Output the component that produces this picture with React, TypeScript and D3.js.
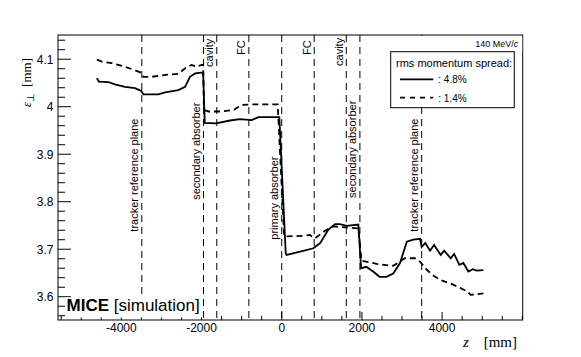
import React from 'react';
import * as d3 from 'd3';

const W = 581;
const H = 357;
const margin = { top: 35, right: 58.3, bottom: 37, left: 58 };

// emittance along the channel, rms momentum spread 4.8% (solid)
const zWide = [
  -4610, -4560, -4330, -4160, -3910, -3660, -3500, -3450, -3080, -2910, -2580, -2410, -2290, -2160, -2000, -1960,
  -1920, -1640, -1290, -1040, -750, -580, -60, 100, 120, 460, 790, 960, 1160, 1330, 1450, 1620, 1910,
  1980, 2110, 2280, 2440, 2610, 2780, 2950, 3120, 3280, 3450, 3490, 3580, 3700, 3800, 3965, 4050, 4215,
  4300, 4430, 4530, 4655, 4765, 4865, 5030,
];
const epsWide = [
  4.06, 4.053, 4.052, 4.047, 4.042, 4.039, 4.033, 4.026, 4.026, 4.03, 4.035, 4.042, 4.063, 4.07, 4.072, 4.072,
  3.966, 3.965, 3.971, 3.974, 3.972, 3.978, 3.978, 3.691, 3.688, 3.695, 3.702, 3.713, 3.741, 3.753, 3.753, 3.749, 3.752,
  3.66, 3.663, 3.653, 3.642, 3.642, 3.649, 3.671, 3.716, 3.72, 3.722, 3.705, 3.713, 3.697, 3.709, 3.688, 3.697, 3.681,
  3.69, 3.667, 3.671, 3.653, 3.658, 3.655, 3.656,
];

// rms momentum spread 1.4% (dashed)
const zNarrow = [
  -4610, -4490, -4240, -3910, -3660, -3490, -3450, -3240, -2910, -2580, -2410, -2250, -2120, -2000, -1960,
  -1940, -1820, -1530, -1200, -1000, -710, -100, 60, 540, 700, 830, 1080, 1290, 1620, 1910,
  1990, 2370, 2780, 3070, 3320, 3450, 3580, 3750, 3960, 4210, 4460, 4630, 4710, 5030,
];
const epsNarrow = [
  4.099, 4.095, 4.092, 4.084, 4.077, 4.071, 4.063, 4.063, 4.067, 4.069, 4.081, 4.088, 4.084, 4.088, 4.088,
  3.993, 3.99, 3.99, 3.993, 4.004, 4.005, 4.005, 3.727, 3.728, 3.73, 3.723, 3.739, 3.748, 3.746, 3.744,
  3.676, 3.669, 3.665, 3.681, 3.681, 3.674, 3.66, 3.646, 3.635, 3.628, 3.618, 3.611, 3.604, 3.607,
];

// element positions along z
const markerZ = [-3490, -1950, -1620, -820, 0, 810, 1610, 1950, 3490];
const markerText = [
  'tracker reference plane', 'secondary absorber', 'cavity', 'FC', 'primary absorber',
  'FC', 'cavity', 'secondary absorber', 'tracker reference plane',
];
// emittance level where each label starts (bottom) or ends (top)
const markerAt = [3.737, 3.804, 4.143, 4.14, 3.72, 4.14, 4.145, 3.808, 3.737];
const markerFromTop = [false, false, true, true, false, true, true, false, false];

const xMajor = [-4000, -2000, 0, 2000, 4000];
const xMajorLabels = ['-4000', '-2000', '0', '2000', '4000'];
const yMajor = [3.6, 3.7, 3.8, 3.9, 4.0, 4.1];
const yMajorLabels = ['3.6', '3.7', '3.8', '3.9', '4', '4.1'];

const legendLabels = [': 4.8%', ': 1.4%'];

const App = () => {
  const x = d3.scaleLinear().domain([-5580, 6010]).range([margin.left, W - margin.right]);
  const y = d3.scaleLinear().domain([3.551, 4.151]).range([H - margin.bottom, margin.top]);
  const [x0, x1] = x.range();
  const [yb, yt] = y.range();

  const xMinor = d3.range(-5500, 6001, 500).filter(v => !xMajor.includes(v));
  const yMinor = d3.range(3.56, 4.15, 0.02).filter(v => !yMajor.some(m => Math.abs(m - v) < 1e-6));

  const line = d3.line<[number, number]>().x(d => x(d[0])).y(d => y(d[1]));
  const wide = line(zWide.map((z, i) => [z, epsWide[i]] as [number, number])) || '';
  const narrow = line(zNarrow.map((z, i) => [z, epsNarrow[i]] as [number, number])) || '';

  const sans = "'Liberation Sans', Arial, Helvetica, sans-serif";
  const serif = "'Liberation Serif', 'Times New Roman', serif";

  return (
    <svg width={W} height={H} style={{ position: 'absolute', left: 0, top: 0, background: '#fff' }} fontFamily={sans}>
      <rect x={0} y={0} width={W} height={H} fill="#fff" />

      {/* element markers */}
      {markerZ.map((z, i) => (
        <line key={'m' + i} x1={x(z)} x2={x(z)} y1={yt} y2={yb} stroke="#000" strokeWidth={1} strokeDasharray="7,5" />
      ))}
      {markerZ.map((z, i) => (
        <text
          key={'mt' + i}
          transform={`translate(${x(z) - 3.5},${y(markerAt[i])}) rotate(-90)`}
          textAnchor={markerFromTop[i] ? 'end' : 'start'}
          fontSize={11}
        >
          {markerText[i]}
        </text>
      ))}

      {/* curves */}
      <path d={wide} fill="none" stroke="#000" strokeWidth={1.8} />
      <path d={narrow} fill="none" stroke="#000" strokeWidth={1.8} strokeDasharray="6,4" />

      {/* frame */}
      <rect x={x0} y={yt} width={x1 - x0} height={yb - yt} fill="none" stroke="#000" strokeWidth={1} />

      {/* x ticks */}
      {xMajor.map((v, i) => (
        <g key={'xM' + i}>
          <line x1={x(v)} x2={x(v)} y1={yb} y2={yb - 8} stroke="#000" />
          <text x={x(v)} y={332} textAnchor="middle" fontSize={12}>{xMajorLabels[i]}</text>
        </g>
      ))}
      {xMinor.map((v, i) => (
        <line key={'xm' + i} x1={x(v)} x2={x(v)} y1={yb} y2={yb - 4} stroke="#000" />
      ))}

      {/* y ticks */}
      {yMajor.map((v, i) => (
        <g key={'yM' + i}>
          <line x1={x0} x2={x0 + 13} y1={y(v)} y2={y(v)} stroke="#000" />
          <text x={53.5} y={y(v)} dy="0.36em" textAnchor="end" fontSize={12}>{yMajorLabels[i]}</text>
        </g>
      ))}
      {yMinor.map((v, i) => (
        <line key={'ym' + i} x1={x0} x2={x0 + 7} y1={y(v)} y2={y(v)} stroke="#000" />
      ))}

      {/* axis titles */}
      <text transform={`translate(31,58) rotate(-90)`} textAnchor="end" fontFamily={serif} fontSize={13}>
        <tspan fontStyle="italic">ε</tspan>
        <tspan dy={3} fontSize={10}>⊥</tspan>
        <tspan dy={-3} dx={6}>[mm]</tspan>
      </text>
      <text x={463} y={347} fontFamily={serif} fontSize={15} fontStyle="italic">z</text>
      <text x={517} y={347} textAnchor="end" fontFamily={serif} fontSize={15}>[mm]</text>

      {/* MICE label */}
      <rect x={65} y={297.5} width={137} height={20} fill="#fff" />
      <text x={66.5} y={310.5} fontSize={17}>
        <tspan fontWeight="bold">MICE</tspan> [simulation]
      </text>

      {/* momentum + legend */}
      <rect x={390} y={36} width={x1 - 390.5} height={16} fill="#fff" />
      <text x={518.3} y={47} textAnchor="end" fontSize={9}>
        140 MeV/<tspan fontStyle="italic">c</tspan>
      </text>
      <rect x={390.7} y={51.7} width={123.6} height={56} fill="#fff" stroke="#000" strokeWidth={1} />
      <text x={396} y={66.7} fontSize={11}>rms momentum spread:</text>
      <line x1={400} x2={433.3} y1={79.3} y2={79.3} stroke="#000" strokeWidth={1.8} />
      <text x={438.3} y={83.3} fontSize={10}>{legendLabels[0]}</text>
      <line x1={400} x2={433.3} y1={97.7} y2={97.7} stroke="#000" strokeWidth={1.8} strokeDasharray="5,5" />
      <text x={438.3} y={101.7} fontSize={10}>{legendLabels[1]}</text>
    </svg>
  );
};

export default App;
